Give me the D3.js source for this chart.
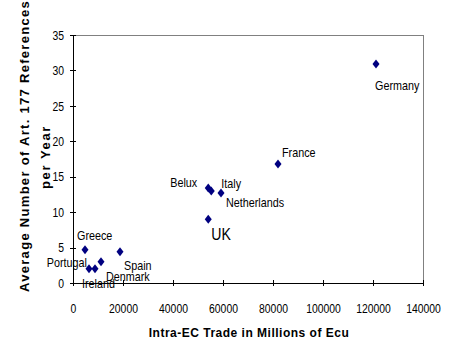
<!DOCTYPE html>
<html><head><meta charset="utf-8">
<script src="https://cdn.jsdelivr.net/npm/d3@7"></script>
<style>
html,body{margin:0;padding:0;background:#fff;}
svg{display:block;}
</style></head>
<body>
<script>
// ---- data ----
const countries = ["Germany","France","Belux","Italy","Netherlands","UK","Greece","Portugal","Ireland","Denmark","Spain"];
const trade = [121200, 82000, 54100, 55300, 59200, 54100, 4800, 6400, 8800, 11200, 18800];
const references = [30.9, 16.8, 13.4, 13.0, 12.7, 9.0, 4.7, 2.0, 2.0, 3.0, 4.4];
const xTicks = [0,20000,40000,60000,80000,100000,120000,140000];
const yTicks = [0,5,10,15,20,25,30,35];
const xTitle = "Intra-EC Trade in Millions of Ecu";
const yTitle1 = "Average Number of Art. 177 References";
const yTitle2 = "per Year";

// ---- layout (label offsets in px, anchor, font size) ----
const labelLayout = {
  Germany:[-1,26,"start",13], France:[4,-7,"start",13], Belux:[-11,-1,"end",13],
  Italy:[10,-3,"start",13], Netherlands:[5,14,"start",13], UK:[3,21,"start",17],
  Greece:[-8,-10,"start",13], Portugal:[-2,-2,"end",13], Ireland:[-13,19,"start",13],
  Denmark:[5,19,"start",13], Spain:[4,18,"start",13]
};
const SX = 0.8;   // tick label condensing
const SXL = 0.83; // point label condensing

const W=458,H=360;
const svg=d3.select("body").append("svg").attr("width",W).attr("height",H);
const x=d3.scaleLinear().domain([0,140000]).range([73,423]);
const y=d3.scaleLinear().domain([0,35]).range([283,35]);
const font="'Liberation Sans',Arial,sans-serif";

// plot border (top/right gray)
svg.append("path").attr("d",`M${x(0)},${y(35)}H${x(140000)}V${y(0)}`)
  .attr("fill","none").attr("stroke","#808080").attr("stroke-width",1).attr("shape-rendering","crispEdges");

// axes
const xAxis=svg.append("g").attr("transform",`translate(0,${y(0)})`)
  .call(d3.axisBottom(x).tickValues(xTicks).tickFormat(d3.format("d")).tickSize(3).tickPadding(18));
xAxis.selectAll(".tick line").attr("y1",-3);
const yAxis=svg.append("g").attr("transform",`translate(${x(0)},0)`)
  .call(d3.axisLeft(y).tickValues(yTicks).tickSize(3).tickPadding(6));
yAxis.selectAll(".tick line").attr("x1",3);
[xAxis,yAxis].forEach(a=>{
  a.select(".domain").attr("stroke","#000");
  a.selectAll("line,path").attr("shape-rendering","crispEdges");
  a.selectAll("text").attr("font-family",font).attr("font-size",13).attr("fill","#000")
    .attr("transform",`scale(${SX},1)`);
});
yAxis.selectAll(".tick text").attr("x",-9/SX);

// markers
const diamond=(cx,cy)=>`M${cx},${cy-4.5}L${cx+3.5},${cy}L${cx},${cy+4.5}L${cx-3.5},${cy}Z`;
svg.append("g").selectAll("path").data(countries).join("path")
  .attr("d",(d,i)=>diamond(x(trade[i]),y(references[i])))
  .attr("fill","#000080");

// labels
svg.append("g").selectAll("text").data(countries).join("text")
  .attr("transform",(d,i)=>`translate(${x(trade[i])+labelLayout[d][0]},${y(references[i])+labelLayout[d][1]}) scale(${SXL},1)`)
  .attr("text-anchor",d=>labelLayout[d][2])
  .attr("font-size",d=>labelLayout[d][3])
  .attr("font-family",font).attr("fill","#000")
  .text(d=>d);

// titles
svg.append("text").attr("x",249).attr("y",337).attr("text-anchor","middle")
  .attr("font-family",font).attr("font-weight","bold")
  .attr("font-size",12).attr("letter-spacing",0.5).text(xTitle);
svg.append("text").attr("transform","translate(29,292) rotate(-90)").attr("text-anchor","start")
  .attr("font-family",font).attr("font-weight","bold")
  .attr("font-size",13).attr("letter-spacing",1.3).text(yTitle1);
svg.append("text").attr("transform","translate(50,157) rotate(-90)").attr("text-anchor","middle")
  .attr("font-family",font).attr("font-weight","bold")
  .attr("font-size",13).attr("letter-spacing",1.6).text(yTitle2);
</script>
</body></html>
